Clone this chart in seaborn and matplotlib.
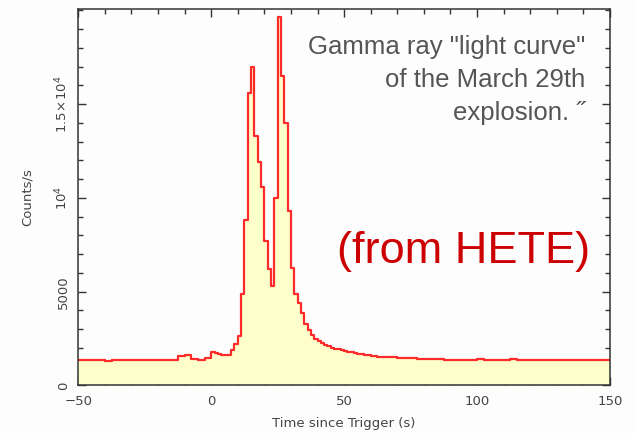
import numpy as np
import pandas as pd
import matplotlib
matplotlib.use("Agg")
import matplotlib.pyplot as plt
from matplotlib.ticker import MultipleLocator, FixedLocator
import seaborn as sns

# ---- data: HETE gamma-ray light curve (bin start times in s, counts/s) ----
bin_start = [
    -50, -47.5, -45, -42.5, -40, -37.5, -35, -32.5, -30, -27.5, -25, -22.5, -20,
    -17.5, -15, -12.5, -10, -7.5, -5, -2.5,
    0, 1.25, 2.5, 3.75, 5, 6.25, 7.5, 8.75, 10, 11.25, 12.5, 13.75, 15, 16.25,
    17.5, 18.75, 20, 21.25, 22.5, 23.75, 25, 26.25, 27.5, 28.75, 30, 31.25,
    32.5, 33.75, 35, 36.25, 37.5, 38.75, 40, 41.25, 42.5, 43.75, 45, 46.25,
    47.5, 48.75, 50, 51.25, 52.5, 53.75, 55, 56.25, 57.5, 58.75,
    60, 62.5, 65, 67.5, 70, 72.5, 75, 77.5, 80, 82.5, 85, 87.5, 90, 92.5, 95,
    97.5, 100, 102.5, 105, 107.5, 110, 112.5, 115, 117.5, 120, 122.5, 125,
    127.5, 130, 132.5, 135, 137.5, 140, 142.5, 145, 147.5,
]
bin_end = 150
counts = [
    1370, 1370, 1370, 1350, 1300, 1360, 1370, 1370, 1365, 1370, 1370, 1365, 1370,
    1370, 1380, 1550, 1650, 1420, 1380, 1480,
    1800, 1750, 1700, 1630, 1620, 1650, 1900, 2200, 2650, 4900, 8800, 15600,
    17000, 13300, 11900, 10600, 7700, 6200, 5300, 10000, 19650, 16500, 14000,
    9300, 6250, 4900, 4400, 3850, 3300, 2950, 2700, 2500, 2350, 2250, 2150,
    2080, 2000, 1960, 1920, 1880, 1830, 1800, 1780, 1750, 1700, 1680, 1650,
    1600,
    1560, 1540, 1520, 1500, 1470, 1460, 1440, 1420, 1400, 1410, 1390, 1380,
    1380, 1370, 1370, 1380, 1430, 1375, 1370, 1370, 1365, 1420, 1370, 1365,
    1365, 1370, 1365, 1365, 1370, 1365, 1365, 1370, 1365, 1365, 1370, 1365,
]
x_ticks = [-50, 0, 50, 100, 150]
x_tick_labels = ["\u221250", "0", "50", "100", "150"]
y_ticks = [0, 5000, 10000, 15000]
y_tick_labels = ["0", "5000", r"$10^4$", r"$1.5\!\times\!10^4$"]
note_text = "Gamma ray \"light curve\"\nof the March 29th\nexplosion. \u02dd"
source_text = "(from HETE)"

# step series: each bin's rate held until the next bin start
df = pd.DataFrame({"t": bin_start + [bin_end], "rate": counts + [counts[-1]]})

sns.set_style("ticks")
plt.rcParams["font.family"] = ["DejaVu Sans"]

fig = plt.figure(figsize=(6.34, 4.33), dpi=100, facecolor="#fdfdfd")
ax = fig.add_axes([0.1235, 0.1097, 0.8385, 0.8705])
ax.set_facecolor("#fdfdfd")

# filled area under the light curve
ax.fill_between(df["t"], df["rate"], 0, step="post", facecolor="#ffffcc",
                edgecolor="none", linewidth=0, zorder=1)
# red step outline
sns.lineplot(data=df, x="t", y="rate", drawstyle="steps-post",
             color="#ff2a2a", linewidth=1.6, ax=ax, zorder=2)

ax.set_xlim(-50, 150)
ax.set_ylim(0, 20100)

ax.xaxis.set_major_locator(FixedLocator(x_ticks))
ax.set_xticklabels(x_tick_labels)
ax.xaxis.set_minor_locator(MultipleLocator(10))
ax.yaxis.set_major_locator(FixedLocator(y_ticks))
ax.set_yticklabels(y_tick_labels, rotation=90, va="center")
ax.yaxis.set_minor_locator(MultipleLocator(1000))

ax.tick_params(which="both", direction="in", top=True, right=True,
               color="#333333", labelcolor="#444444", labelsize=9.5)
ax.tick_params(which="major", length=6, width=1)
ax.tick_params(which="minor", length=3.5, width=1)
ax.tick_params(axis="x", pad=7)
ax.tick_params(axis="y", pad=6)

for s in ax.spines.values():
    s.set_visible(True)
    s.set_color("#333333")
    s.set_linewidth(1.1)
    s.set_zorder(3)

ax.set_xlabel("Time since Trigger (s)", fontsize=9.5, color="#444444", labelpad=6)
ax.set_ylabel("Counts/s", fontsize=9.5, color="#444444", labelpad=14)

fig.text(585 / 634, 1 - 80 / 433, note_text, ha="right", va="center",
         fontsize=18.5, color="#555555", family="Liberation Sans",
         linespacing=1.45)
fig.text(590 / 634, 1 - 252 / 433, source_text, ha="right", va="center",
         fontsize=32.5, color="#cc0000", family="Liberation Sans")

fig.savefig("out.png", dpi=100, facecolor=fig.get_facecolor())
